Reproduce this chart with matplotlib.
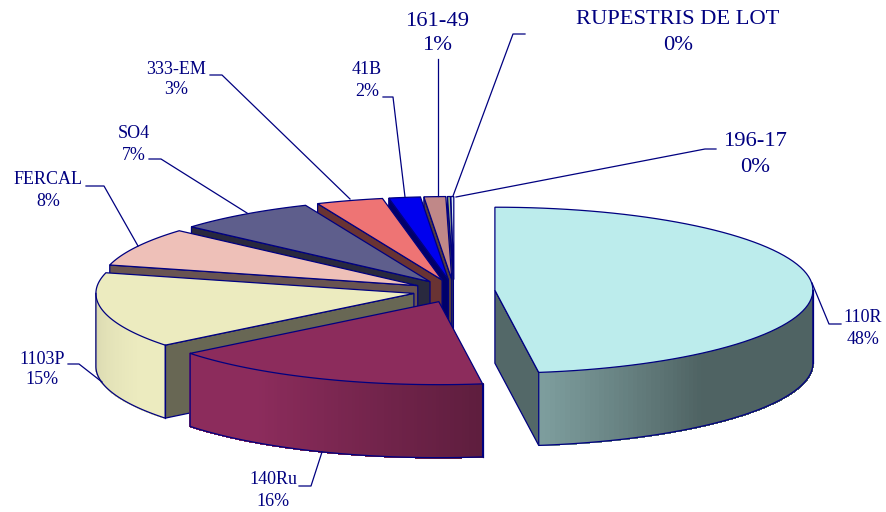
import numpy as np
import matplotlib
matplotlib.use("Agg")
import matplotlib.pyplot as plt

# data
names = ["110R", "140Ru", "1103P", "FERCAL", "SO4", "333-EM", "41B", "161-49",
         "RUPESTRIS DE LOT", "196-17"]
values = [47.8, 16.49, 14.71, 7.5, 7.1, 3.4, 1.6, 1.1, 0.15, 0.15]
pct_labels = ["48%", "16%", "15%", "8%", "7%", "3%", "2%", "1%", "0%", "0%"]

# colours of the top faces
colors = ["#bcecec", "#8c2c5c", "#ecebbf", "#eec0b8", "#5e5e8c", "#ee7474",
          "#0000ee", "#c08888", "#a0b484", "#d8e8f0"]
line_col = "#000080"

# geometry, in pixels of the picture
cx, cy = 454, 291
rx, ry = 318, 83
depth = 73
explode = 41
explode_y = 0.28

# label centre, font size, leader line
label_pos = [(863, 318, 13), (273, 479, 13), (42, 359, 13), (48, 179, 13),
             (134, 134, 13), (176, 69, 13), (367, 70, 13), (437, 21, 16.2),
             (678, 20, 16.2), (755, 142, 16.2)]
label_gap = [22, 22, 21, 22, 21, 21, 21, 25, 26, 26]
leaders = [[(812, 283), (829, 324), (841, 324)],
           [(322, 452), (311, 486), (299, 486)],
           [(102, 382), (79, 364), (68, 364)],
           [(138, 246), (104, 186), (86, 186)],
           [(247, 213), (161, 159), (149, 159)],
           [(350, 199), (222, 75), (210, 75)],
           [(405, 197), (393, 97), (383, 97)],
           [(438, 196), (438, 59)],
           [(453, 196), (513, 34), (525, 34)],
           [(456, 197), (705, 149), (716, 149)]]


def shade(col, f):
    return tuple(min(1, c * f) for c in matplotlib.colors.to_rgb(col))


# how bright the round wall is at a given angle
def wall_light(a):
    return np.interp(a, [-180, -150, -125, -82, -50, 0], [0.92, 1, 1, 0.67, 0.42, 0.42])


def arc(x0, y0, a0, a1, n=80):
    t = np.radians(np.linspace(a0, a1, n))
    return x0 + rx * np.cos(t), y0 - ry * np.sin(t)


fig = plt.figure(figsize=(8.86, 5.12), dpi=100)
ax = fig.add_axes([0, 0, 1, 1])
ax.set_xlim(0, 886)
ax.set_ylim(512, 0)
ax.axis("off")

sweeps = np.array(values) / sum(values) * 360
ends = 90 - np.cumsum(sweeps)
starts = ends + sweeps

# back slices first
for i in range(len(values) - 1, -1, -1):
    a0, a1 = starts[i], ends[i]
    mid = np.radians((a0 + a1) / 2)
    x0 = cx + explode * np.cos(mid)
    y0 = cy - explode * explode_y * np.sin(mid)
    col = colors[i]
    side = shade(col, 0.44)

    # flat side walls that face the viewer
    for a, norm in ((a0, a0 + 90), (a1, a1 - 90)):
        if np.sin(np.radians(norm)) < -0.01:
            xe = x0 + rx * np.cos(np.radians(a))
            ye = y0 - ry * np.sin(np.radians(a))
            ax.fill([x0, xe, xe, x0], [y0, ye, ye + depth, y0 + depth],
                    facecolor=side, edgecolor=line_col, linewidth=0.9)

    # round wall, cut in strips for the gradient
    lo, hi = max(a1, -180), min(a0, 0)
    if hi > lo:
        xs, ys = arc(x0, y0, hi, lo, 90)
        angs = np.linspace(hi, lo, 90)
        for k in range(len(xs) - 1):
            c = shade(col, wall_light((angs[k] + angs[k + 1]) / 2))
            ax.fill([xs[k], xs[k + 1], xs[k + 1], xs[k]],
                    [ys[k], ys[k + 1], ys[k + 1] + depth, ys[k] + depth],
                    facecolor=c, edgecolor=c, linewidth=0.8, antialiased=False)
        ax.plot(np.r_[xs[0], xs, xs[-1]], np.r_[ys[0], ys + depth, ys[-1]],
                color=line_col, linewidth=0.9)
        ax.plot([xs[0], xs[0]], [ys[0], ys[0] + depth], color=line_col, linewidth=0.9)

    # top face
    xs, ys = arc(x0, y0, a0, a1)
    ax.fill(np.r_[x0, xs], np.r_[y0, ys], facecolor=col, edgecolor=line_col,
            linewidth=0.9, joinstyle="miter")

# labels
for i in range(len(names)):
    x, y, fs = label_pos[i]
    ax.text(x, y, names[i], ha="center", va="center", fontsize=fs,
            family="Liberation Serif", color=line_col)
    ax.text(x, y + label_gap[i], pct_labels[i], ha="center", va="center", fontsize=fs,
            family="Liberation Serif", color=line_col)
    lx, ly = zip(*leaders[i])
    ax.plot(lx, ly, color=line_col, linewidth=0.9)

fig.savefig("out.png", dpi=100)
